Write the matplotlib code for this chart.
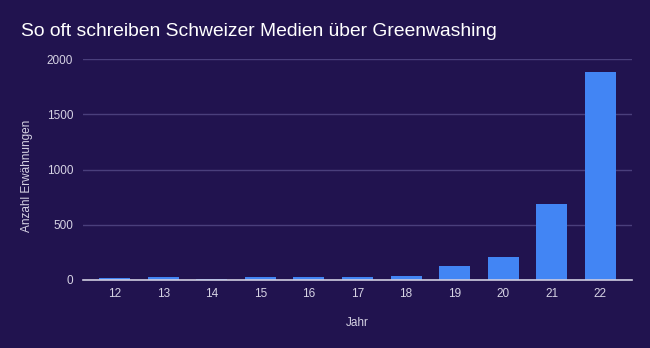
import matplotlib
matplotlib.use("Agg")
import matplotlib.pyplot as plt

plt.rcParams['font.family'] = ['Liberation Sans', 'DejaVu Sans']

# Daten: Erwähnungen pro Jahr
jahre = ['12', '13', '14', '15', '16', '17', '18', '19', '20', '21', '22']
erwaehnungen = [18, 27, 9, 27, 25, 25, 35, 125, 205, 690, 1880]

bg = '#21134f'
bar_color = '#4285f4'
grid_color = '#4a3f7c'
text_color = '#d6d3e4'

fig = plt.figure(figsize=(6.5, 3.48), dpi=100)
fig.patch.set_facecolor(bg)
ax = fig.add_axes([83/650, 1 - 280/348, (632-83)/650, (280-59)/348])
ax.set_facecolor(bg)

x = list(range(len(jahre)))
ax.bar(x, erwaehnungen, width=0.64, color=bar_color, zorder=3)

ax.set_xlim(-0.65, len(jahre) - 0.35)
ax.set_ylim(0, 2000)
ax.set_yticks([0, 500, 1000, 1500, 2000])
ax.set_xticks(x)
ax.set_xticklabels(jahre)
ax.tick_params(axis='both', length=0, colors=text_color, labelsize=8.5)
ax.tick_params(axis='x', pad=6)
ax.tick_params(axis='y', pad=7)
ax.grid(axis='y', color=grid_color, linewidth=1, zorder=0)
for s in ['top', 'right', 'left']:
    ax.spines[s].set_visible(False)
ax.spines['bottom'].set_color('#cfcde0')
ax.spines['bottom'].set_linewidth(1.2)
ax.spines['bottom'].set_zorder(4)

ax.set_xlabel('Jahr', color=text_color, fontsize=8.5, labelpad=12)
ax.set_ylabel('Anzahl Erwähnungen', color=text_color, fontsize=8.5)
ax.yaxis.set_label_coords(-0.091, 0.47)
fig.text(21/650, 1 - 31/348, 'So oft schreiben Schweizer Medien über Greenwashing',
         color='white', fontsize=13.9, va='center', ha='left')

fig.savefig('out.png', dpi=100, facecolor=bg)
